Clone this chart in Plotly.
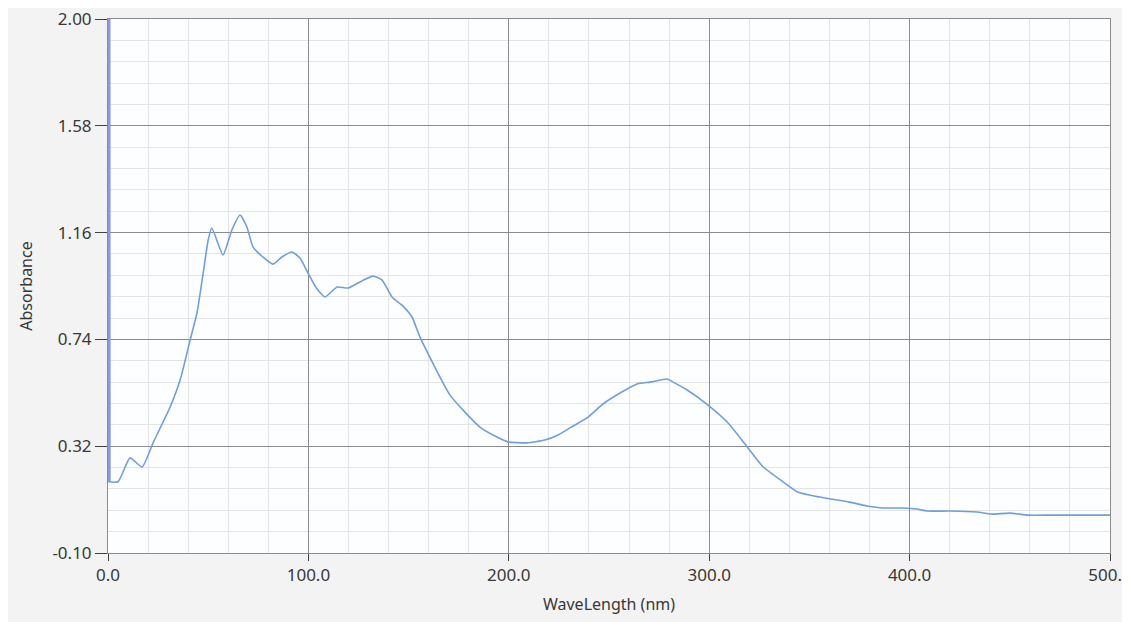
import plotly.graph_objects as go

wavelength = [0, 0.1, 5, 11, 17, 22.5, 31, 36, 41, 44.4, 47.5, 50, 51.8, 57.4, 61.8, 65.9, 69.3,
              72.4, 77.3, 82.3, 86.8, 91.8, 95.8, 99.8, 104, 108.3, 114.3, 119.8, 126.7, 132.2,
              136.7, 141.7, 147.2, 151.7, 155.7, 170.7, 185.6, 195.6, 199.6, 209, 218, 224.6,
              230.5, 239, 247, 255.5, 264, 270.5, 279, 282, 289, 299.4, 309, 319, 327, 337,
              344, 355, 370, 378.7, 386.7, 396.7, 403.7, 408.7, 420, 433.6, 441, 450, 459,
              470, 486.5, 500]
absorbance = [2.05, 0.18, 0.18, 0.274, 0.238, 0.333, 0.474, 0.580, 0.738, 0.844, 1.001, 1.131,
              1.178, 1.072, 1.170, 1.229, 1.182, 1.103, 1.064, 1.036, 1.064, 1.084, 1.060, 1.001,
              0.942, 0.907, 0.946, 0.942, 0.970, 0.989, 0.974, 0.907, 0.871, 0.828, 0.749, 0.521,
              0.395, 0.350, 0.337, 0.333, 0.344, 0.364, 0.392, 0.431, 0.486, 0.529, 0.565, 0.572,
              0.584, 0.572, 0.541, 0.482, 0.415, 0.317, 0.238, 0.179, 0.140, 0.120, 0.100, 0.085,
              0.077, 0.077, 0.073, 0.065, 0.065, 0.061, 0.053, 0.057, 0.049, 0.049, 0.049, 0.049]

y_ticks = [-0.10, 0.32, 0.74, 1.16, 1.58, 2.00]
x_ticks = [0, 100, 200, 300, 400, 500]

fig = go.Figure()
# initial vertical spike at the start of the scan (drawn along the left axis)
fig.add_trace(go.Scatter(
    x=wavelength[:2], y=absorbance[:2], mode="lines",
    line=dict(color="#8a9ae2", width=5),
    hoverinfo="skip",
))
fig.add_trace(go.Scatter(
    x=wavelength[1:], y=absorbance[1:], mode="lines",
    line=dict(color="#6f9fdc", width=1.6, shape="spline", smoothing=0.5),
    hoverinfo="skip",
))

txt = "#383838"
font = dict(family="Noto Sans, Open Sans, Liberation Sans, Arial, sans-serif", size=17, color=txt)

fig.update_layout(
    width=1130, height=622,
    margin=dict(l=100, r=28, t=11, b=77, autoexpand=False),
    paper_bgcolor="#f3f3f3",
    plot_bgcolor="#fdfeff",
    showlegend=False,
    font=font,
    xaxis=dict(
        range=[0, 500], tickvals=x_ticks, ticktext=[f"{v:.1f}" for v in x_ticks],
        tickfont=dict(size=17, color=txt), ticklabeloverflow="allow",
        showgrid=True, gridcolor="#8c8c8c", gridwidth=1,
        minor=dict(dtick=20, tick0=0, showgrid=True, gridcolor="#e4e4e4", gridwidth=1),
        showline=True, linecolor="#8c8c8c", linewidth=1, mirror=True,
        ticks="outside", ticklen=7, tickcolor="#404040",
        zeroline=False, automargin=False,
        title=dict(text="WaveLength (nm)", font=dict(size=16, color=txt), standoff=13),
    ),
    yaxis=dict(
        range=[-0.10, 2.00], tickvals=y_ticks, ticktext=[f"{v:.2f}" for v in y_ticks],
        tickfont=dict(size=17, color=txt), ticklabeloverflow="allow",
        showgrid=True, gridcolor="#8c8c8c", gridwidth=1,
        minor=dict(dtick=0.084, tick0=-0.10, showgrid=True, gridcolor="#e4e4e4", gridwidth=1),
        showline=True, linecolor="#8c8c8c", linewidth=1, mirror=True,
        ticks="outside", ticklen=12, tickcolor="#404040",
        zeroline=False, automargin=False, layer="below traces",
        title=dict(text="Absorbance", font=dict(size=16, color=txt), standoff=15),
    ),
)

fig.write_html("out.html")
